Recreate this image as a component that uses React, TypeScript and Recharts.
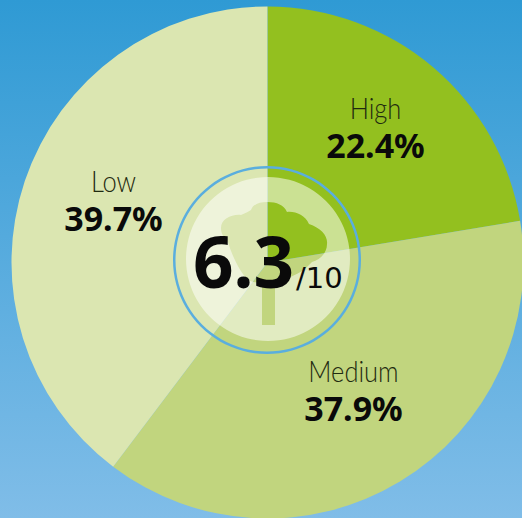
import { Pie, PieChart } from "recharts";

// Share of score per rating band, clockwise from 12 o'clock.
const bands = ["High", "Medium", "Low"];
const shares = [22.4, 37.9, 39.7];
const score = "6.3";
const scoreMax = "/10";

const BAND_COLORS = ["#93c01f", "#c1d57e", "#dbe6b1"];

// centre x / percent baseline of each label, relative to the pie centre
const LABEL_SPOTS = [
  { dx: 108, dy: -105 },
  { dx: 86, dy: 158 },
  { dx: -154, dy: -32 },
];

const W = 522;
const H = 518;
const CX = 267.5;
const CY = 262.5;

const sliceData = bands.map((name, i) => ({
  name,
  value: shares[i],
  fill: BAND_COLORS[i],
}));
const discData = [{ name: "disc", value: 1 }];

const TREE_PATH =
  "M262 322 L262 280 L275 280 L275 325 L262 325 Z " +
  "M221 228 C221 219 232 214 241 215 C246 213 249 211 251 210 C253 204 260 202 267 202 " +
  "C277 202 284 205 287 212 C295 211 305 215 309 224 C321 228 328 236 327 244 " +
  "C327 253 320 260 312 262 C305 270 296 275 288 278 C278 284 258 285 248 280 " +
  "C240 272 232 256 228 242 C224 238 221 234 221 228 Z";

const renderBandLabel = (props: any) => {
  const spot = LABEL_SPOTS[props.index];
  const x = props.cx + spot.dx;
  const y = props.cy + spot.dy;
  return (
    <g key={props.name}>
      <text
        transform={`translate(${x} ${y - 39}) scale(0.85 1)`}
        textAnchor="middle"
        fontFamily="Lato, sans-serif"
        fontWeight={300}
        fontSize={30}
        fill="#1f2a10"
      >
        {props.name}
      </text>
      <text
        x={x}
        y={y}
        textAnchor="middle"
        fontFamily="'Noto Sans', sans-serif"
        fontWeight={700}
        fontSize={34}
        fill="#0a0a0a"
      >
        {shares[props.index].toFixed(1)}%
      </text>
    </g>
  );
};

// drawn as the ring's label so it stays above the slices
const renderScore = () => (
  <g key="score">
    <text
      x={193}
      y={288}
      fontFamily="'Noto Sans', sans-serif"
      fontWeight={700}
      fontSize={71}
      fill="#0a0a0a"
    >
      {score}
    </text>
    <text
      x={296}
      y={288}
      fontFamily="'DejaVu Sans', sans-serif"
      fontSize={29}
      fill="#0a0a0a"
    >
      {scoreMax}
    </text>
  </g>
);

export default function App() {
  return (
    <div
      style={{
        position: "fixed",
        left: 0,
        top: 0,
        width: W,
        height: H,
        overflow: "hidden",
        background: "linear-gradient(180deg, #2f9ad4 0%, #80bde8 100%)",
      }}
    >
      <PieChart width={W} height={H} margin={{ top: 0, right: 0, bottom: 0, left: 0 }}>
        <defs>
          <mask id="treeCut" maskUnits="userSpaceOnUse" x={0} y={0} width={W} height={H}>
            <rect x={0} y={0} width={W} height={H} fill="#fff" />
            <path d={TREE_PATH} fill="#000" />
          </mask>
        </defs>
        <Pie
          data={sliceData}
          dataKey="value"
          cx={CX}
          cy={CY}
          outerRadius={256}
          startAngle={90}
          endAngle={-270}
          stroke="none"
          isAnimationActive={false}
          labelLine={false}
          label={renderBandLabel}
        />
        <Pie
          data={discData}
          dataKey="value"
          cx={268}
          cy={259}
          outerRadius={82}
          startAngle={90}
          endAngle={-270}
          fill="#ffffff"
          fillOpacity={0.52}
          stroke="none"
          mask="url(#treeCut)"
          isAnimationActive={false}
        />
        <Pie
          data={discData}
          dataKey="value"
          cx={267}
          cy={260}
          innerRadius={91.5}
          outerRadius={94}
          startAngle={90}
          endAngle={-270}
          fill="#5aaede"
          stroke="none"
          isAnimationActive={false}
          labelLine={false}
          label={renderScore}
        />
      </PieChart>
    </div>
  );
}
